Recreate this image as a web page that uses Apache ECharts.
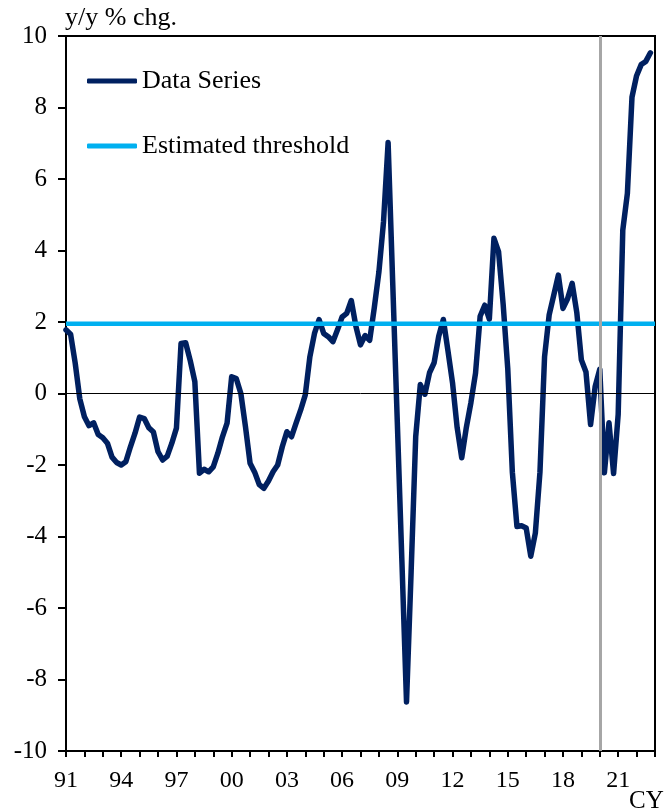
<!DOCTYPE html>
<html>
<head>
<meta charset="utf-8">
<script src="https://cdn.jsdelivr.net/npm/echarts@6/dist/echarts.min.js"></script>
<style>
  html, body { margin: 0; padding: 0; background: #ffffff; }
  #chart { width: 665px; height: 811px; }
</style>
</head>
<body>
<div id="chart"></div>
<script>
// Quarterly axis: 1991Q1 through 2023Q1 (the last slot closes the axis at 2023)
const startYear = 1991;
const quarterCount = 129;
const categories = [];
for (let i = 0; i < quarterCount; i++) {
  categories.push((startYear + Math.floor(i / 4)) + 'Q' + (i % 4 + 1));
}

// Year labels shown every third year
const yearLabels = ['91', '94', '97', '00', '03', '06', '09', '12', '15', '18', '21'];

// y/y % change, quarterly, 1991Q1 .. 2022Q4
const seriesValues = [
  1.78, 1.66, 0.85, -0.15, -0.65, -0.90, -0.82, -1.15,
  -1.24, -1.39, -1.78, -1.93, -2.00, -1.91, -1.49, -1.11,
  -0.66, -0.70, -0.96, -1.08, -1.63, -1.86, -1.75, -1.39,
  -0.97, 1.40, 1.42, 0.92, 0.33, -2.23, -2.12, -2.19,
  -2.05, -1.67, -1.21, -0.83, 0.47, 0.42, 0.00, -0.93,
  -1.95, -2.20, -2.55, -2.65, -2.45, -2.19, -2.00, -1.49,
  -1.07, -1.21, -0.83, -0.46, -0.04, 1.03, 1.68, 2.07,
  1.68, 1.59, 1.45, 1.78, 2.14, 2.24, 2.60, 1.88,
  1.36, 1.62, 1.49, 2.40, 3.40, 4.80, 7.02, 3.10,
  -0.80, -4.70, -8.63, -5.00, -1.20, 0.25, -0.02, 0.58,
  0.86, 1.60, 2.07, 1.20, 0.30, -0.95, -1.80, -0.95,
  -0.25, 0.57, 2.16, 2.47, 2.08, 4.34, 3.97, 2.50,
  0.70, -2.20, -3.72, -3.70, -3.76, -4.55, -3.90, -2.20,
  1.03, 2.20, 2.75, 3.31, 2.38, 2.65, 3.08, 2.27,
  0.94, 0.60, -0.87, 0.20, 0.68, -2.22, -0.82, -2.24,
  -0.58, 4.57, 5.60, 8.29, 8.89, 9.20, 9.29, 9.53
];

const thresholdValue = 1.95;
const breakQuarter = '2020Q1';

const yMin = -10, yMax = 10, yStep = 2;

const serif = 'Liberation Serif';
const navy = '#002060';
const cyan = '#00b0f0';
const grey = '#a6a6a6';

const chart = echarts.init(document.getElementById('chart'), null, { renderer: 'canvas' });

chart.setOption({
  animation: false,
  backgroundColor: '#ffffff',
  grid: {
    left: 66, right: 10, top: 36, bottom: 60,
    show: true, borderColor: '#000', borderWidth: 2, backgroundColor: 'transparent'
  },
  legend: {
    data: ['Data Series', 'Estimated threshold'],
    orient: 'vertical',
    left: 82, top: 63,
    itemWidth: 50, itemHeight: 5, itemGap: 39,
    icon: 'roundRect',
    selectedMode: false,
    textStyle: { fontFamily: serif, fontSize: 26, color: '#000', lineHeight: 26 }
  },
  xAxis: {
    type: 'category',
    data: categories,
    boundaryGap: false,
    axisLine: { onZero: false, lineStyle: { color: '#000', width: 2 } },
    axisTick: {
      interval: (index) => index % 4 === 0,
      length: 6, lineStyle: { color: '#000', width: 2 }
    },
    axisLabel: {
      interval: (index) => index % 12 === 0 && index / 12 < yearLabels.length,
      formatter: (value, index) => yearLabels[index / 12] || '',
      fontFamily: serif, fontSize: 24, color: '#000', margin: 18
    },
    splitLine: { show: false }
  },
  yAxis: {
    type: 'value',
    min: yMin, max: yMax, interval: yStep,
    axisLine: { show: true, lineStyle: { color: '#000', width: 2 } },
    axisTick: { show: true, inside: false, length: 8, lineStyle: { color: '#000', width: 2 } },
    axisLabel: { fontFamily: serif, fontSize: 25, color: '#000', margin: 19 },
    splitLine: { show: false }
  },
  graphic: [
    {
      type: 'text', left: 65, top: 5,
      style: { text: 'y/y % chg.', font: '26px "Liberation Serif"', fill: '#000' }
    },
    {
      type: 'text', left: 629, top: 789,
      style: { text: 'CY', font: '25px "Liberation Serif"', fill: '#000' }
    }
  ],
  series: [
    {
      // reference lines: period marker and zero line
      name: 'reference',
      type: 'line',
      data: [],
      z: 1,
      silent: true,
      markLine: {
        silent: true,
        symbol: 'none',
        label: { show: false },
        animation: false,
        data: [
          { xAxis: breakQuarter, lineStyle: { color: grey, width: 3, type: 'solid' } },
          { yAxis: 0, lineStyle: { color: '#000', width: 1, type: 'solid' } }
        ]
      }
    },
    {
      name: 'Data Series',
      type: 'line',
      data: seriesValues,
      z: 3,
      showSymbol: false,
      symbol: 'none',
      color: navy,
      itemStyle: { color: navy },
      lineStyle: { color: navy, width: 5.5, cap: 'round', join: 'round' }
    },
    {
      name: 'Estimated threshold',
      type: 'line',
      data: categories.map(() => thresholdValue),
      z: 4,
      showSymbol: false,
      symbol: 'none',
      color: cyan,
      itemStyle: { color: cyan },
      lineStyle: { color: cyan, width: 4.5 }
    }
  ]
});
</script>
</body>
</html>
